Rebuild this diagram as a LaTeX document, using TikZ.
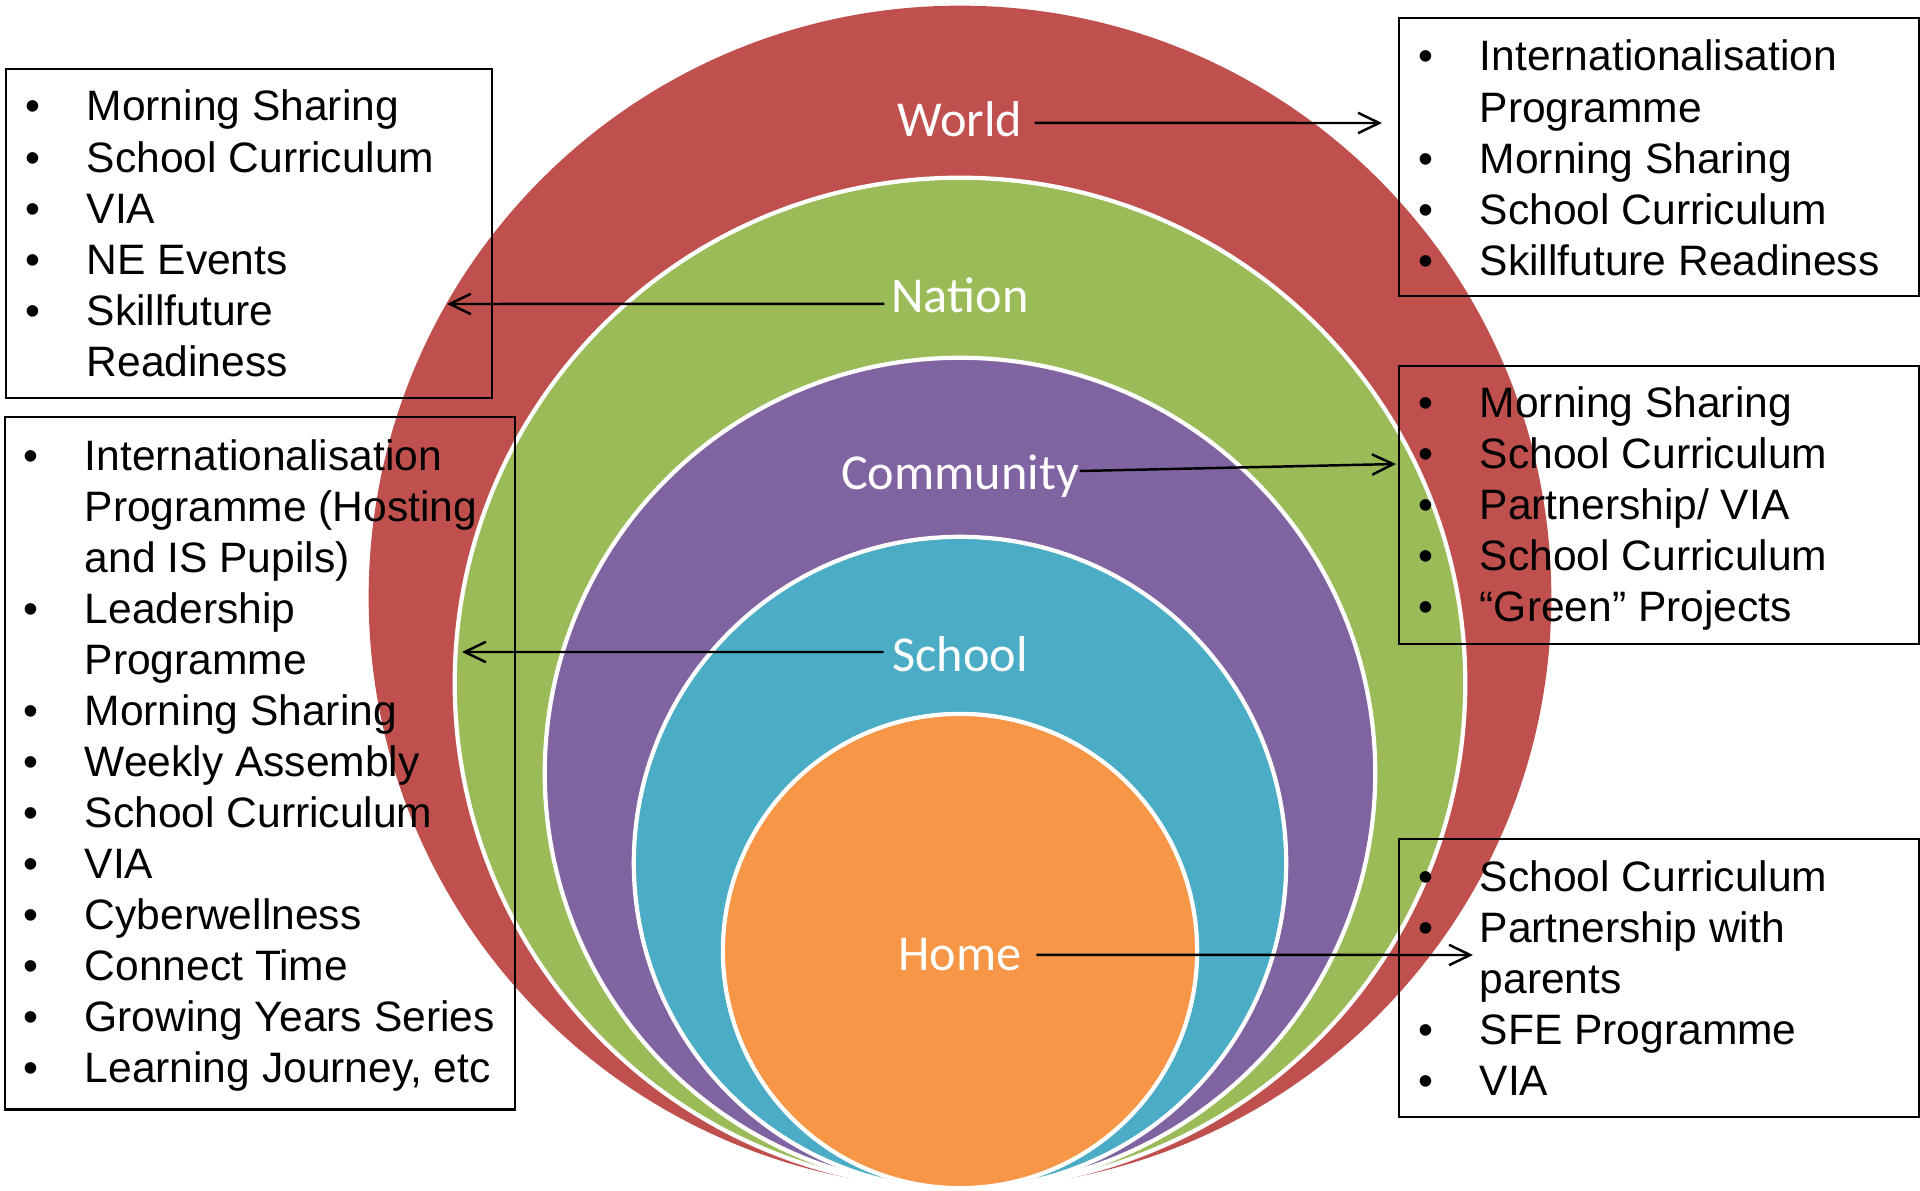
\documentclass[tikz,border=0pt]{standalone}
\usepackage{fontspec}
\setmainfont{Liberation Sans}
\newfontfamily\labfont{Carlito}
\usetikzlibrary{arrows.meta}
\definecolor{cworld}{HTML}{C0504D}
\definecolor{cnation}{HTML}{9BBB59}
\definecolor{ccomm}{HTML}{8064A2}
\definecolor{cschool}{HTML}{4BACC6}
\definecolor{chome}{HTML}{F79646}
\newcommand{\bul}{\makebox[17.36pt][l]{\textbullet}}
\newcommand{\cont}{\hspace*{17.36pt}}
\begin{document}
\begin{tikzpicture}[x=0.01cm,y=-0.01cm,
  ring/.style={draw=white,line width=1.2pt},
  lbl/.style={text=white,font=\labfont\fontsize{14.3pt}{17pt}\selectfont,inner sep=0pt,anchor=base},
  infobox/.style={draw=black,line width=0.6pt,anchor=north west,inner sep=0pt},
  itemtext/.style={anchor=base west,inner sep=0pt,font=\fontsize{12.1pt}{14.51pt}\selectfont},
  conn/.style={line width=0.7pt,-{Straight Barb[length=6pt,width=5.8pt]}}]
\useasboundingbox (0,0) rectangle (1920,1191);
% rings
\fill[cworld] (960,597) circle[radius=5.91cm];
\filldraw[ring,fill=cnation] (960,683) circle[radius=5.05cm];
\filldraw[ring,fill=ccomm] (960,773) circle[radius=4.15cm];
\filldraw[ring,fill=cschool] (960,863) circle[radius=3.26cm];
\filldraw[ring,fill=chome] (960,951) circle[radius=2.37cm];
% labels
\node[lbl] (world) at (960,137) {World};
\node[lbl] (nation) at (960,313) {Nation};
\node[lbl] (community) at (960,490) {Community};
\node[lbl] (school) at (960,671) {School};
\node[lbl] (home) at (960,970) {Home};
% boxes
\node[infobox,minimum width=4.86cm,minimum height=3.29cm] (boxA) at (5,68) {};
\node[infobox,minimum width=5.10cm,minimum height=6.92cm] (boxB) at (4,416) {};
\node[infobox,minimum width=5.20cm,minimum height=2.78cm] (boxC) at (1398,17) {};
\node[infobox,minimum width=5.20cm,minimum height=2.78cm] (boxD) at (1398,365) {};
\node[infobox,minimum width=5.20cm,minimum height=2.78cm] (boxE) at (1398,838) {};
% box texts
\node[itemtext] (tA) at (25,121) {\parbox[t]{5cm}{%
\bul Morning Sharing\\
\bul School Curriculum\\
\bul VIA\\
\bul NE Events\\
\bul Skillfuture\\
\cont Readiness}};
\node[itemtext] (tB) at (23,470) {\parbox[t]{5cm}{%
\bul Internationalisation\\
\cont Programme (Hosting\\
\cont and IS Pupils)\\
\bul Leadership\\
\cont Programme\\
\bul Morning Sharing\\
\bul Weekly Assembly\\
\bul School Curriculum\\
\bul VIA\\
\bul Cyberwellness\\
\bul Connect Time\\
\bul Growing Years Series\\
\bul Learning Journey, etc}};
\node[itemtext] (tC) at (1418,71) {\parbox[t]{5cm}{%
\bul Internationalisation\\
\cont Programme\\
\bul Morning Sharing\\
\bul School Curriculum\\
\bul Skillfuture Readiness}};
\node[itemtext] (tD) at (1418,417) {\parbox[t]{5cm}{%
\bul Morning Sharing\\
\bul School Curriculum\\
\bul Partnership/ VIA\\
\bul School Curriculum\\
\bul “Green” Projects}};
\node[itemtext] (tE) at (1418,891) {\parbox[t]{5cm}{%
\bul School Curriculum\\
\bul Partnership with\\
\cont parents\\
\bul SFE Programme\\
\bul VIA}};
% arrow ends
\coordinate (wend) at (1382,123);
\coordinate (nend) at (447,304);
\coordinate (cend) at (1396,464);
\coordinate (send) at (462,652);
\coordinate (hend) at (1473,955);
\draw[conn] ([xshift=3.3pt,yshift=4pt]world.base east) -- (wend);
\draw[conn] ([xshift=-1.85pt,yshift=2.6pt]nation.base west) -- (nend);
\draw[conn] ([xshift=0pt,yshift=5.4pt]community.base east) -- (cend);
\draw[conn] ([xshift=-2.3pt,yshift=5.4pt]school.base west) -- (send);
\draw[conn] ([xshift=4pt,yshift=4.3pt]home.base east) -- (hend);
\end{tikzpicture}
\end{document}
